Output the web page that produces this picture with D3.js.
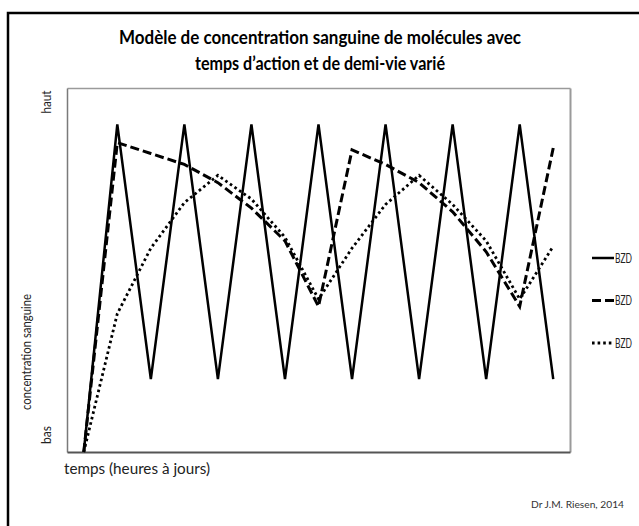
<!DOCTYPE html>
<html>
<head>
<meta charset="utf-8">
<script src="https://cdn.jsdelivr.net/npm/d3@7"></script>
<style>
body { margin: 0; background: #fff; }
svg { display: block; font-family: Lato, "Open Sans", sans-serif; }
</style>
</head>
<body>
<svg width="639" height="526"></svg>
<script>
// points de temps (catégories de l'axe horizontal)
var temps = [0, 1, 2, 3, 4, 5, 6, 7, 8, 9, 10, 11, 12, 13, 14];

// concentration relative (0 = bas, 10 = haut)
var bzdCourte = [0, 9, 2, 9, 2, 9, 2, 9, 2, 9, 2, 9, 2, 9, 2];
var bzdMoyenne = [0, 8.5, 8.2, 7.9, 7.4, 6.7, 5.8, 4.0, 8.3, 7.9, 7.4, 6.6, 5.5, 4.0, 8.35];
var bzdLongue = [0, 3.8, 5.6, 6.85, 7.6, 6.95, 5.9, 4.2, 5.6, 6.8, 7.6, 6.8, 5.8, 4.2, 5.65];

var legende = ["BZD", "BZD", "BZD"];

var series = [
    {name: legende[0], values: bzdCourte, width: 2.5, dash: null},
    {name: legende[1], values: bzdMoyenne, width: 3, dash: "9,4"},
    {name: legende[2], values: bzdLongue, width: 2.8, dash: "2.6,3"}
];

var svg = d3.select("svg");

var plot = {left: 67, right: 570, top: 88, bottom: 452};

// squeeze text to the given width (narrow font look)
function squeeze(sel, w) {
    sel.attr("textLength", w).attr("lengthAdjust", "spacingAndGlyphs");
}

// outer frame (top and left edges visible)
svg.append("rect")
    .attr("x", 8)
    .attr("y", 13)
    .attr("width", 700)
    .attr("height", 600)
    .attr("fill", "none")
    .attr("stroke", "#000")
    .attr("stroke-width", 2.5);

var x = d3.scalePoint()
    .domain(temps)
    .range([plot.left, plot.right])
    .padding(0.5);

var y = d3.scaleLinear()
    .domain([0, 10])
    .range([plot.bottom, plot.top]);

// plot border: top and right are lighter
svg.append("g")
    .attr("transform", "translate(0," + plot.top + ")")
    .call(d3.axisTop(x).tickValues([]).tickSizeOuter(0))
    .select(".domain").attr("stroke", "#9a9a9a").attr("stroke-width", 1.5);

svg.append("g")
    .attr("transform", "translate(" + plot.right + ",0)")
    .call(d3.axisRight(y).tickValues([]).tickSizeOuter(0))
    .select(".domain").attr("stroke", "#9a9a9a").attr("stroke-width", 2);

svg.append("g")
    .attr("transform", "translate(" + plot.left + ",0)")
    .call(d3.axisLeft(y).tickValues([]).tickSizeOuter(0))
    .select(".domain").attr("stroke", "#7a7a7a").attr("stroke-width", 1.5);

svg.append("g")
    .attr("transform", "translate(0," + plot.bottom + ")")
    .call(d3.axisBottom(x).tickValues([]).tickSizeOuter(0))
    .select(".domain").attr("stroke", "#555").attr("stroke-width", 2);

var line = d3.line()
    .x(function(d, i) { return x(temps[i]); })
    .y(function(d) { return y(d); });

svg.append("g")
    .selectAll("path")
    .data(series)
    .enter().append("path")
    .attr("d", function(d) { return line(d.values); })
    .attr("fill", "none")
    .attr("stroke", "#000")
    .attr("stroke-width", function(d) { return d.width; })
    .attr("stroke-dasharray", function(d) { return d.dash; })
    .attr("stroke-linejoin", "miter");

// legend
var leg = svg.append("g")
    .selectAll("g")
    .data(series)
    .enter().append("g")
    .attr("transform", function(d, i) { return "translate(592," + (258 + i * 42.5) + ")"; });

leg.append("line")
    .attr("x1", 0)
    .attr("x2", 22)
    .attr("stroke", "#000")
    .attr("stroke-width", function(d) { return d.width; })
    .attr("stroke-dasharray", function(d) { return d.dash; });

leg.append("text")
    .attr("x", 23)
    .attr("y", 4.5)
    .style("font-size", "12.5px")
    .style("fill", "#222")
    .text(function(d) { return d.name; })
    .call(squeeze, 17);

// title
svg.append("text")
    .attr("x", 320)
    .attr("y", 44)
    .attr("text-anchor", "middle")
    .style("font-weight", "bold")
    .style("font-size", "19px")
    .text("Modèle de concentration sanguine de molécules avec")
    .call(squeeze, 402);

svg.append("text")
    .attr("x", 320)
    .attr("y", 70)
    .attr("text-anchor", "middle")
    .style("font-weight", "bold")
    .style("font-size", "19px")
    .text("temps d’action et de demi-vie varié")
    .call(squeeze, 250);

// y labels
svg.append("text")
    .attr("transform", "translate(31,352) rotate(-90)")
    .attr("text-anchor", "middle")
    .style("font-size", "14px")
    .style("fill", "#222")
    .text("concentration sanguine")
    .call(squeeze, 116);

svg.append("text")
    .attr("transform", "translate(51,102) rotate(-90)")
    .attr("text-anchor", "middle")
    .style("font-size", "14px")
    .style("fill", "#222")
    .text("haut")
    .call(squeeze, 23);

svg.append("text")
    .attr("transform", "translate(51,435) rotate(-90)")
    .attr("text-anchor", "middle")
    .style("font-size", "14px")
    .style("fill", "#222")
    .text("bas")
    .call(squeeze, 18);

// x label
svg.append("text")
    .attr("x", 64)
    .attr("y", 474)
    .style("font-size", "14.5px")
    .style("fill", "#222")
    .text("temps (heures à jours)")
    .call(squeeze, 146);

svg.append("text")
    .attr("x", 531)
    .attr("y", 508)
    .style("font-size", "10px")
    .style("fill", "#333")
    .text("Dr J.M. Riesen, 2014")
    .call(squeeze, 93);
</script>
</body>
</html>
